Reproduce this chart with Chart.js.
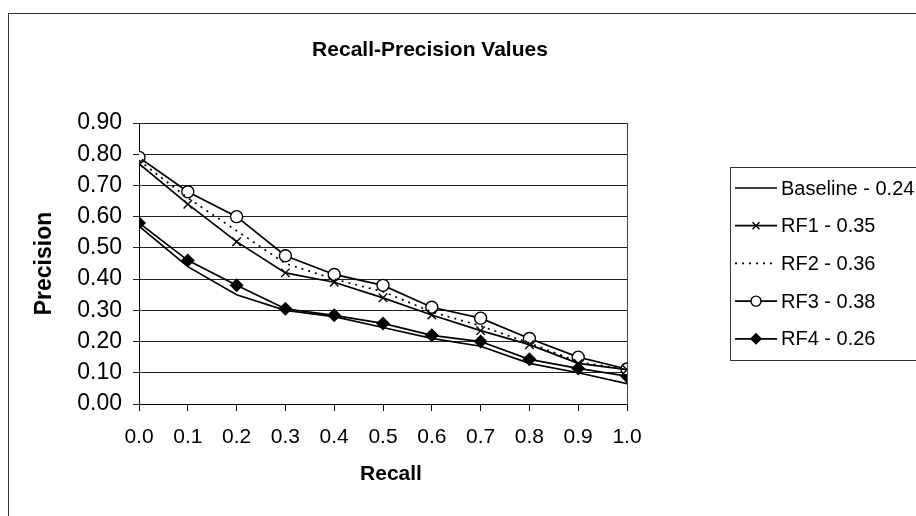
<!DOCTYPE html>
<html><head><meta charset="utf-8">
<script src="https://cdn.jsdelivr.net/npm/chart.js@4/dist/chart.umd.min.js"></script>
<style>html,body{margin:0;padding:0;background:#fff}</style>
</head><body>
<canvas id="c" width="916" height="516" style="display:block;width:916px;height:516px"></canvas>
<script>
// ---- data ----
const recall = [0.0, 0.1, 0.2, 0.3, 0.4, 0.5, 0.6, 0.7, 0.8, 0.9, 1.0];
const seriesNames = ['Baseline - 0.24', 'RF1 - 0.35', 'RF2 - 0.36', 'RF3 - 0.38', 'RF4 - 0.26'];
const baseline = [0.57, 0.44, 0.35, 0.30, 0.28, 0.245, 0.21, 0.185, 0.13, 0.10, 0.065];
const rf1 = [0.77, 0.64, 0.52, 0.42, 0.39, 0.34, 0.285, 0.235, 0.19, 0.13, 0.11];
const rf2 = [0.78, 0.66, 0.555, 0.45, 0.40, 0.36, 0.295, 0.25, 0.195, 0.135, 0.11];
const rf3 = [0.79, 0.68, 0.60, 0.475, 0.415, 0.38, 0.31, 0.275, 0.21, 0.15, 0.112];
const rf4 = [0.58, 0.46, 0.38, 0.305, 0.284, 0.258, 0.22, 0.20, 0.143, 0.114, 0.089];
const titleText = 'Recall-Precision Values';
const xTitle = 'Recall';
const yTitle = 'Precision';

const FONT = '"Liberation Sans", Arial, sans-serif';
const toPts = arr => arr.map((v, i) => ({x: recall[i], y: v}));

const styles = [
  {pointStyle: false, radius: 0, dash: [], bg: '#000'},
  {pointStyle: 'crossRot', radius: 6, dash: [], bg: '#000'},
  {pointStyle: false, radius: 0, dash: [2, 5], bg: '#000'},
  {pointStyle: 'circle', radius: 6, dash: [], bg: '#fff'},
  {pointStyle: 'rectRot', radius: 6, dash: [], bg: '#000'}
];
const values = [baseline, rf1, rf2, rf3, rf4];

const datasets = values.map((vals, i) => ({
  label: seriesNames[i],
  data: toPts(vals),
  borderColor: '#000',
  backgroundColor: styles[i].bg,
  borderWidth: 1.7,
  borderDash: styles[i].dash,
  pointStyle: styles[i].pointStyle,
  pointRadius: styles[i].radius,
  pointBorderWidth: 1.4,
  pointBorderColor: '#000',
  pointBackgroundColor: styles[i].bg,
  tension: 0
}));

const decor = {
  id: 'decor',
  beforeDraw(chart) {
    const ctx = chart.ctx;
    ctx.save();
    ctx.fillStyle = '#fff';
    ctx.fillRect(0, 0, chart.width, chart.height);
    ctx.strokeStyle = '#333';
    ctx.lineWidth = 1;
    ctx.strokeRect(8.5, 13.5, 1200, 1200);
    ctx.restore();
  },
  beforeDatasetsDraw(chart) {
    const ctx = chart.ctx, a = chart.chartArea;
    ctx.save();
    ctx.strokeStyle = '#444';
    ctx.lineWidth = 1;
    ctx.beginPath();
    ctx.moveTo(Math.round(a.right) + 0.5, a.top);
    ctx.lineTo(Math.round(a.right) + 0.5, a.bottom);
    ctx.stroke();
    ctx.restore();
  },
  afterDraw(chart) {
    const ctx = chart.ctx, a = chart.chartArea;
    ctx.save();
    ctx.fillStyle = '#000';
    ctx.textAlign = 'center';
    ctx.textBaseline = 'middle';
    ctx.font = 'bold 21px ' + FONT;
    ctx.fillText(titleText, 430, 50);
    ctx.font = 'bold 21px ' + FONT;
    ctx.fillText(xTitle, 391, 474);
    ctx.save();
    ctx.translate(45, (a.top + a.bottom) / 2);
    ctx.rotate(-Math.PI / 2);
    ctx.font = 'bold 23px ' + FONT;
    ctx.fillText(yTitle, 0, 0);
    ctx.restore();

    // legend
    ctx.strokeStyle = '#333';
    ctx.lineWidth = 1;
    ctx.strokeRect(730.5, 167.5, 400, 193);
    ctx.font = '20px ' + FONT;
    ctx.textAlign = 'left';
    chart.data.datasets.forEach((ds, i) => {
      const y = 188 + i * 37.7;
      ctx.save();
      ctx.strokeStyle = '#000';
      ctx.lineWidth = ds.borderWidth;
      ctx.setLineDash(ds.borderDash || []);
      ctx.beginPath();
      ctx.moveTo(735, y);
      ctx.lineTo(777, y);
      ctx.stroke();
      ctx.setLineDash([]);
      if (ds.pointStyle) {
        ctx.fillStyle = ds.pointBackgroundColor;
        ctx.strokeStyle = '#000';
        ctx.lineWidth = ds.pointBorderWidth;
        Chart.helpers.drawPoint(ctx, {pointStyle: ds.pointStyle, radius: 5, rotation: 0, borderWidth: ds.pointBorderWidth}, 756, y);
      }
      ctx.restore();
      ctx.fillStyle = '#000';
      ctx.fillText(ds.label, 781, y + 1);
    });
    ctx.restore();
  }
};

new Chart(document.getElementById('c'), {
  type: 'line',
  data: {datasets},
  options: {
    responsive: false,
    animation: false,
    devicePixelRatio: 1,
    layout: {padding: {left: 0, right: 289, top: 123, bottom: 0}},
    plugins: {legend: {display: false}, title: {display: false}, tooltip: {enabled: false}},
    scales: {
      x: {
        type: 'linear', min: 0, max: 1,
        afterFit: s => { s.height = 112; },
        afterBuildTicks: s => { s.ticks = recall.map(v => ({value: v})); },
        ticks: {stepSize: 0.1, callback: v => Number(v).toFixed(1), color: '#000', font: {family: FONT, size: 21}, padding: 14, maxRotation: 0, autoSkip: false},
        grid: {drawOnChartArea: false, drawTicks: true, tickLength: 7, color: '#000'},
        border: {color: '#000', width: 1}
      },
      y: {
        min: 0, max: 0.9,
        afterFit: s => { s.width = 139; },
        ticks: {stepSize: 0.1, callback: v => Number(v).toFixed(2), color: '#000', font: {family: FONT, size: 23}, padding: 11},
        grid: {color: '#222', lineWidth: 1, tickLength: 6},
        border: {color: '#000', width: 1}
      }
    }
  },
  plugins: [decor]
});
</script>
</body></html>
